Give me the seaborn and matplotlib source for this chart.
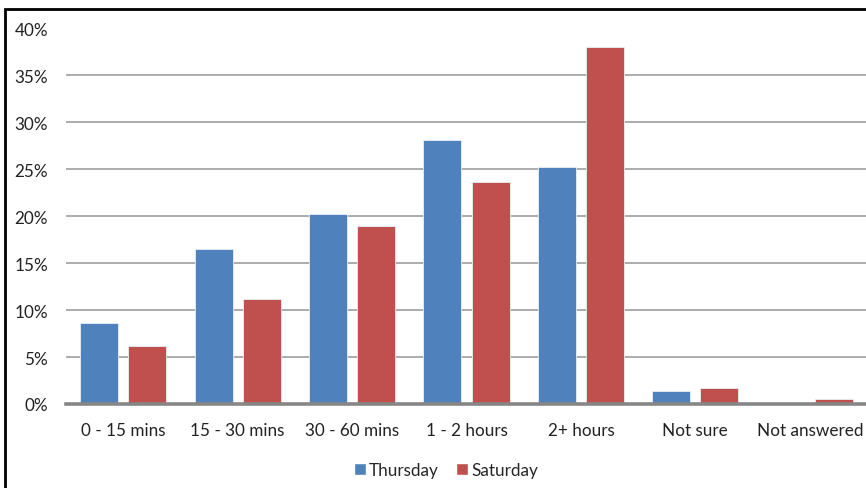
import matplotlib
matplotlib.use("Agg")
import matplotlib.pyplot as plt
from matplotlib.patches import Rectangle
from matplotlib.ticker import FuncFormatter
import seaborn as sns
import pandas as pd

categories = ["0 - 15 mins", "15 - 30 mins", "30 - 60 mins", "1 - 2 hours",
              "2+ hours", "Not sure", "Not answered"]
thursday = [8.6, 16.5, 20.2, 28.1, 25.2, 1.4, 0.0]
saturday = [6.2, 11.2, 19.0, 23.6, 38.0, 1.7, 0.5]
series_names = ["Thursday", "Saturday"]
y_ticks = [0, 5, 10, 15, 20, 25, 30, 35, 40]

blue = "#4F81BD"
red = "#C0504D"

df = pd.DataFrame({
    "category": categories * 2,
    "value": thursday + saturday,
    "day": [series_names[0]] * len(categories) + [series_names[1]] * len(categories),
})

sns.set_theme(style="white")
plt.rcParams["font.family"] = ["Lato", "DejaVu Sans"]

fig = plt.figure(figsize=(8.66, 4.89), dpi=100)
ax = fig.add_axes([66 / 866, 1 - 405 / 489, 801 / 866, 375.5 / 489])

sns.barplot(data=df, x="category", y="value", hue="day", order=categories,
            hue_order=series_names, palette=[blue, red], saturation=1,
            width=0.84, gap=0.21, edgecolor="#e8eef6", linewidth=0.6,
            ax=ax, legend=False, zorder=3)

ax.set_ylim(0, 40)
ax.set_xlim(-0.5, len(categories) - 0.5)
ax.set_yticks(y_ticks)
ax.yaxis.set_major_formatter(FuncFormatter(lambda v, _: f"{v:.0f}%"))
ax.set_xlabel("")
ax.set_ylabel("")

ax.grid(axis="y", color="#A6A6A6", linewidth=1.3, zorder=0)
ax.grid(axis="x", visible=False)
ax.set_axisbelow(True)
for side in ["top", "right", "left"]:
    ax.spines[side].set_visible(False)
ax.spines["bottom"].set_color("#868686")
ax.spines["bottom"].set_linewidth(2.6)
ax.spines["bottom"].set_zorder(4)

ax.tick_params(axis="y", length=0, pad=13, labelsize=12.3, labelcolor="#222222")
ax.tick_params(axis="x", length=0, pad=13, labelsize=12.3, labelcolor="#222222")

handles = [Rectangle((0, 0), 1, 1, facecolor=blue), Rectangle((0, 0), 1, 1, facecolor=red)]
fig.legend(handles, series_names, loc="center", bbox_to_anchor=(446 / 866, 1 - 471 / 489),
           ncol=2, frameon=False, fontsize=12.3, handlelength=0.7, handleheight=0.7,
           handletextpad=0.2, columnspacing=1.0)

# outer chart border (left and top edges visible)
fig.patches.append(Rectangle((5 / 866, -0.2), 1.2, 1.2 - 10 / 489,
                             transform=fig.transFigure, fill=False,
                             edgecolor="black", linewidth=2.0))

fig.savefig("out.png", dpi=100)
